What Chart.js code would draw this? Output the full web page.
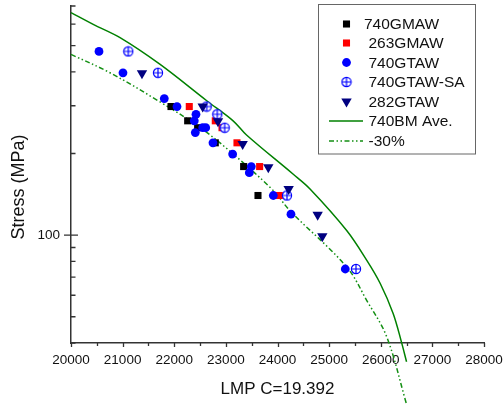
<!DOCTYPE html>
<html>
<head>
<meta charset="utf-8">
<script src="https://cdn.jsdelivr.net/npm/chart.js@4.4.1/dist/chart.umd.min.js"></script>
<style>
  body { margin: 0; background: #fff; }
  canvas { display: block; }
</style>
</head>
<body>
<canvas id="lmp-chart" width="504" height="405"></canvas>
<script>
// data: [LMP, stress MPa]
const gmaw740 = [[21937, 298], [22260, 264], [22453, 249], [22795, 219], [23344, 179], [23622, 140]];
const gmaw263 = [[22291, 298], [22795, 264], [22925, 249], [23215, 219], [23654, 179], [24035, 140]];
const gtaw740 = [[20542, 476], [21007, 397], [21807, 319], [22053, 298], [22421, 279], [22388, 264],
                 [22551, 249], [22609, 249], [22408, 239], [22750, 219], [23131, 199], [23492, 179],
                 [23454, 170], [23919, 140], [24261, 119.5], [25313, 75]];
const gtawSA740 = [[21110, 476], [21685, 397], [22628, 298], [22834, 279], [22976, 249], [24184, 140], [25520, 75]];
const gtaw282 = [[21375, 395], [22551, 298], [22847, 263], [23325, 217], [23822, 178], [24216, 148], [24778, 119], [24868, 99]];

const bmAveX = [20000, 20430, 20950, 21720, 22630, 23140, 23400, 24300, 24630, 25340, 25730, 25990, 26240, 26400, 26500];
const bmAveY = [662, 599, 535, 427, 313, 264, 234, 168, 148, 104, 80.7, 66.3, 51.4, 40.4, 34.1];
const minus30X = [20000, 20755, 21724, 22498, 23143, 23918, 24242, 25340, 25727, 26115, 26502];
const minus30Y = [464, 397, 310, 249.5, 199, 146, 123, 76.3, 57.5, 42.2, 23.7];

const xLabelTicks = [20000, 21000, 22000, 23000, 24000, 25000, 26000, 27000, 28000];
const xMinorTicks = [20500, 21500, 22500, 23500, 24500, 25500, 26500, 27500];
const yLabelTicks = [100];
const yMinorTicks = [40, 50, 60, 70, 80, 90, 200, 300, 400, 500, 600, 700];

const FONT = "'Liberation Sans', Arial, sans-serif";

function toPoints(arr) {
  return arr.map(p => ({ x: p[0], y: p[1] }));
}
function zipPoints(xs, ys) {
  return xs.map((x, i) => ({ x: x, y: ys[i] }));
}

// circle with a cross inside, for 740GTAW-SA
function makeCrossCircle() {
  const c = document.createElement('canvas');
  c.width = 12; c.height = 12;
  const g = c.getContext('2d');
  g.strokeStyle = '#0000ff';
  g.fillStyle = '#ffffff';
  g.lineWidth = 1.2;
  g.beginPath();
  g.arc(6, 6, 4.6, 0, Math.PI * 2);
  g.fill();
  g.stroke();
  g.beginPath();
  g.moveTo(1.4, 6); g.lineTo(10.6, 6);
  g.moveTo(6, 1.4); g.lineTo(6, 10.6);
  g.stroke();
  return c;
}
const crossCircle = makeCrossCircle();

const datasets = [
  { label: '740GMAW', data: toPoints(gmaw740), pointStyle: 'rect', pointRadius: 5,
    backgroundColor: '#000000', borderColor: '#000000', pointBorderWidth: 0, order: 6 },
  { label: '263GMAW', data: toPoints(gmaw263), pointStyle: 'rect', pointRadius: 5,
    backgroundColor: '#ff0000', borderColor: '#ff0000', pointBorderWidth: 0, order: 5 },
  { label: '740GTAW', data: toPoints(gtaw740), pointStyle: 'circle', pointRadius: 4.4,
    backgroundColor: '#0000ff', borderColor: '#0000ff', pointBorderWidth: 0, order: 4 },
  { label: '740GTAW-SA', data: toPoints(gtawSA740), pointStyle: crossCircle, pointRadius: 5,
    backgroundColor: '#0000ff', borderColor: '#0000ff', pointBorderWidth: 0, order: 3 },
  { label: '282GTAW', data: toPoints(gtaw282), pointStyle: 'triangle', pointRotation: 180, pointRadius: 6,
    backgroundColor: '#000080', borderColor: '#000080', pointBorderWidth: 0, order: 2 },
  { label: '740BM Ave.', data: zipPoints(bmAveX, bmAveY), showLine: true, pointRadius: 0,
    borderColor: '#008000', borderWidth: 1.5, tension: 0.35, clip: false, order: 8 },
  { label: '-30%', data: zipPoints(minus30X, minus30Y), showLine: true, pointRadius: 0,
    borderColor: '#138f13', borderWidth: 1.5, borderDash: [5, 2.5, 1.5, 2.5, 1.5, 2.5], tension: 0.35, clip: false, order: 7 }
];

const decor = {
  id: 'decor',
  afterDraw(chart) {
    const ctx = chart.ctx;
    const xs = chart.scales.x, ys = chart.scales.y;
    const bottom = chart.chartArea.bottom, left = chart.chartArea.left;
    ctx.save();
    ctx.strokeStyle = '#333';
    ctx.lineWidth = 1.3;
    // x tick marks
    ctx.beginPath();
    xLabelTicks.forEach(v => { const px = Math.round(xs.getPixelForValue(v)) + 0.5; ctx.moveTo(px, bottom); ctx.lineTo(px, bottom + 4); });
    xMinorTicks.forEach(v => { const px = Math.round(xs.getPixelForValue(v)) + 0.5; ctx.moveTo(px, bottom); ctx.lineTo(px, bottom + 3); });
    // y tick marks
    yLabelTicks.forEach(v => { const py = ys.getPixelForValue(v); ctx.moveTo(left - 7, py); ctx.lineTo(left + 7, py); });
    yMinorTicks.forEach(v => { const py = ys.getPixelForValue(v); ctx.moveTo(left, py); ctx.lineTo(left + 4.5, py); });
    ctx.stroke();

    // axis titles
    ctx.fillStyle = '#111';
    ctx.textAlign = 'center';
    ctx.textBaseline = 'middle';
    ctx.font = '17px ' + FONT;
    ctx.fillText('LMP C=19.392', (chart.chartArea.left + chart.chartArea.right) / 2, 389);
    ctx.save();
    ctx.translate(19, 187);
    ctx.rotate(-Math.PI / 2);
    ctx.font = '18px ' + FONT;
    ctx.fillText('Stress (MPa)', 0, 0);
    ctx.restore();

    // legend box
    ctx.fillStyle = '#ffffff';
    ctx.fillRect(318, 4.5, 158, 149.5);
    ctx.strokeStyle = '#666';
    ctx.lineWidth = 1;
    ctx.strokeRect(318.5, 4.5, 157, 149.5);
    const rowY = [24, 43, 62.5, 82, 101.5, 121, 141];
    ctx.font = '15.5px ' + FONT;
    ctx.textAlign = 'left';
    chart.data.datasets.forEach((ds, i) => {
      const y = rowY[i];
      if (ds.showLine) {
        ctx.save();
        ctx.strokeStyle = ds.borderColor;
        ctx.lineWidth = ds.borderWidth;
        ctx.setLineDash(ds.borderDash || []);
        ctx.beginPath();
        ctx.moveTo(329, y); ctx.lineTo(363, y);
        ctx.stroke();
        ctx.restore();
      } else {
        ctx.fillStyle = ds.backgroundColor;
        ctx.strokeStyle = ds.borderColor;
        Chart.helpers.drawPoint(ctx, {
          pointStyle: ds.pointStyle, rotation: ds.pointRotation || 0,
          radius: ds.pointRadius, borderWidth: 0
        }, 346.5, y);
      }
      ctx.fillStyle = '#111';
      ctx.fillText(ds.label, i === 0 ? 364 : 368.5, y + 1);
    });
    ctx.restore();
  }
};

const chart = new Chart(document.getElementById('lmp-chart').getContext('2d'), {
  type: 'scatter',
  data: { datasets: datasets },
  options: {
    responsive: false,
    animation: false,
    devicePixelRatio: 1,
    layout: { padding: { top: 5, right: 20, left: 0, bottom: 0 } },
    plugins: { legend: { display: false }, tooltip: { enabled: false } },
    scales: {
      x: {
        type: 'linear', min: 20000, max: 28000,
        afterBuildTicks(scale) { scale.ticks = xLabelTicks.map(v => ({ value: v })); },
        afterFit(scale) { scale.height = 62; scale.paddingLeft = 0; scale.paddingRight = 0; },
        grid: { display: false, drawTicks: false },
        border: { display: true, color: '#333', width: 1.5 },
        ticks: { color: '#111', padding: 9, maxRotation: 0, autoSkip: false,
                 font: { family: FONT, size: 13.5 }, callback: v => String(v) }
      },
      y: {
        type: 'logarithmic', min: 40, max: 700,
        afterBuildTicks(scale) { scale.ticks = yLabelTicks.map(v => ({ value: v })); },
        afterFit(scale) { scale.width = 71; scale.paddingTop = 0; scale.paddingBottom = 0; },
        grid: { display: false, drawTicks: false },
        border: { display: true, color: '#333', width: 1.5 },
        ticks: { color: '#111', padding: 11, autoSkip: false,
                 font: { family: FONT, size: 13.5 }, callback: v => String(v) }
      }
    }
  },
  plugins: [decor]
});
</script>
</body>
</html>
